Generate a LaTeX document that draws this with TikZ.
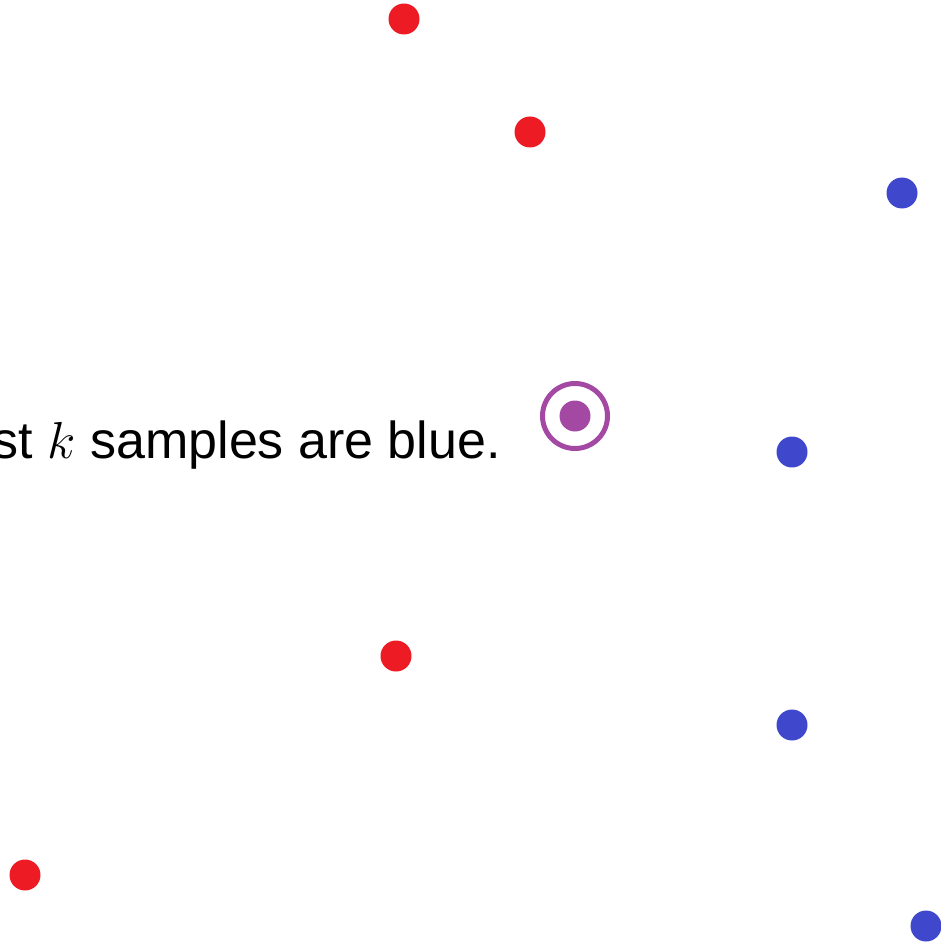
\RequirePackage{fix-cm}
\documentclass[tikz,border=0pt]{standalone}
\usepackage{fontspec}
\setmainfont{Liberation Sans}
\usepackage{tikz}
\usetikzlibrary{positioning}
\definecolor{ptred}{RGB}{237,28,36}
\definecolor{ptblue}{RGB}{63,72,204}
\definecolor{ptpurple}{RGB}{163,73,164}
\tikzset{
  sample/.style={circle, inner sep=0pt, minimum size=31pt},
  redpt/.style={sample, fill=ptred},
  bluept/.style={sample, fill=ptblue},
  querypt/.style={sample, fill=ptpurple},
  queryring/.style={circle, draw=ptpurple, line width=5pt, inner sep=0pt, minimum size=65pt},
  caption/.style={inner sep=0pt, font=\fontsize{52}{62}\selectfont}
}
\begin{document}
\begin{tikzpicture}[x=1pt, y=-1pt]
  \useasboundingbox (0,0) rectangle (940,944);
  \node[redpt] (r1) at (404,19) {};
  \node[redpt] (r2) at (530,132) {};
  \node[redpt] (r3) at (396,656) {};
  \node[redpt] (r4) at (25,875) {};
  \node[bluept] (b1) at (902,193) {};
  \node[bluept] (b2) at (792,452) {};
  \node[bluept] (b3) at (792,725) {};
  \node[bluept] (b4) at (926,926) {};
  \node[querypt] (query) at (575,416) {};
  \node[queryring] (ring) at (query) {};
  \node[caption, anchor=base east] (rule) at (501,458) {st $k$ samples are blue.};
\end{tikzpicture}
\end{document}
